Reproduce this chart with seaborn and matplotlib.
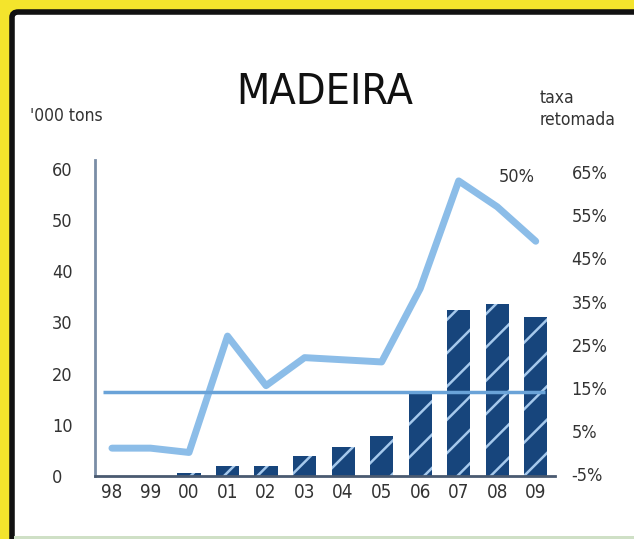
import matplotlib
matplotlib.use("Agg")
import matplotlib.pyplot as plt
import seaborn as sns
import pandas as pd
from matplotlib.patches import FancyBboxPatch, Rectangle

years = ["98", "99", "00", "01", "02", "03", "04", "05", "06", "07", "08", "09"]
tons = [0, 0, 0.5, 2, 2, 4, 5.7, 7.8, 16.2, 32.4, 33.6, 31]
taxa = [1, 1, 0, 27, 15.5, 22, 21.5, 21, 38, 63, 57, 49]
media = 14
left_ticks = [0, 10, 20, 30, 40, 50, 60]
right_ticks = [-5, 5, 15, 25, 35, 45, 55, 65]

navy = "#17457c"
light = "#8cbde8"
hline = "#6aa3d8"
txt = "#333333"

sns.set_style("white")
plt.rcParams["font.family"] = ["DejaVu Sans"]
plt.rcParams["font.stretch"] = "condensed"
plt.rcParams["hatch.linewidth"] = 1.8

df = pd.DataFrame({"ano": years, "tons": tons, "taxa": taxa})

fig = plt.figure(figsize=(6.34, 5.39), dpi=100)
fig.patch.set_facecolor("#f4e42c")
frame = FancyBboxPatch((12 / 634, -0.05), 1.0, 1.05 - 12 / 539,
                       boxstyle="round,pad=0,rounding_size=0.01",
                       transform=fig.transFigure, facecolor="white",
                       edgecolor="#111111", linewidth=4, zorder=-5)
fig.patches.append(frame)
fig.patches.append(Rectangle((14 / 634, 0), 1, 3 / 539, transform=fig.transFigure,
                             facecolor="#cfe0c6", edgecolor="none", zorder=-4))

ax = fig.add_axes([95 / 634, (539 - 476) / 539, (555 - 95) / 634, (476 - 160) / 539])
ax.set_facecolor("none")
sns.barplot(data=df, x="ano", y="tons", color=navy, width=0.6, saturation=1,
            edgecolor="#a6c9ec", linewidth=0, hatch="/", ax=ax)
ax.set_xlim(-0.44, 11.5)
ax.set_ylim(0, 61.7)
ax.set_yticks(left_ticks)
ax.set_xlabel("")
ax.set_ylabel("")
for s in ["top", "right"]:
    ax.spines[s].set_visible(False)
ax.spines["left"].set_color("#7a8da6")
ax.spines["left"].set_linewidth(2)
ax.spines["bottom"].set_color("#4a5a70")
ax.spines["bottom"].set_linewidth(2)
ax.tick_params(axis="y", length=0, pad=31, labelsize=13, labelcolor=txt)
ax.tick_params(axis="x", length=0, pad=5, labelsize=13.5, labelcolor=txt)
for lab in ax.get_yticklabels():
    lab.set_horizontalalignment("left")

ax2 = ax.twinx()
ax2.set_ylim(-5.46, 67.85)
pos = list(range(len(years)))
sns.lineplot(x=pos, y=taxa, color=light, linewidth=5, ax=ax2,
             solid_joinstyle="round", solid_capstyle="round")
ax2.hlines(media, -0.23, 11.25, color=hline, linewidth=2.5)
ax2.set_yticks(right_ticks)
ax2.set_yticklabels([f"{v}%" for v in right_ticks])
ax2.tick_params(axis="y", length=0, pad=12, labelsize=13, labelcolor=txt)
for s in ["top", "right", "left", "bottom"]:
    ax2.spines[s].set_visible(False)
ax2.set_xlim(-0.44, 11.5)
ax2.text(10.5, 64, "50%", ha="center", va="center", fontsize=13, color=txt)

fig.text(325 / 634, 1 - 92 / 539, "MADEIRA", ha="center", va="center",
         fontsize=31, color="#111111")
fig.text(30 / 634, 1 - 116 / 539, "'000 tons", ha="left", va="center",
         fontsize=12.5, color=txt)
fig.text(540 / 634, 1 - 109 / 539, "taxa\nretomada", ha="left", va="center",
         fontsize=12.5, color=txt, linespacing=1.25)

fig.savefig("out.png", dpi=100, facecolor=fig.get_facecolor())
